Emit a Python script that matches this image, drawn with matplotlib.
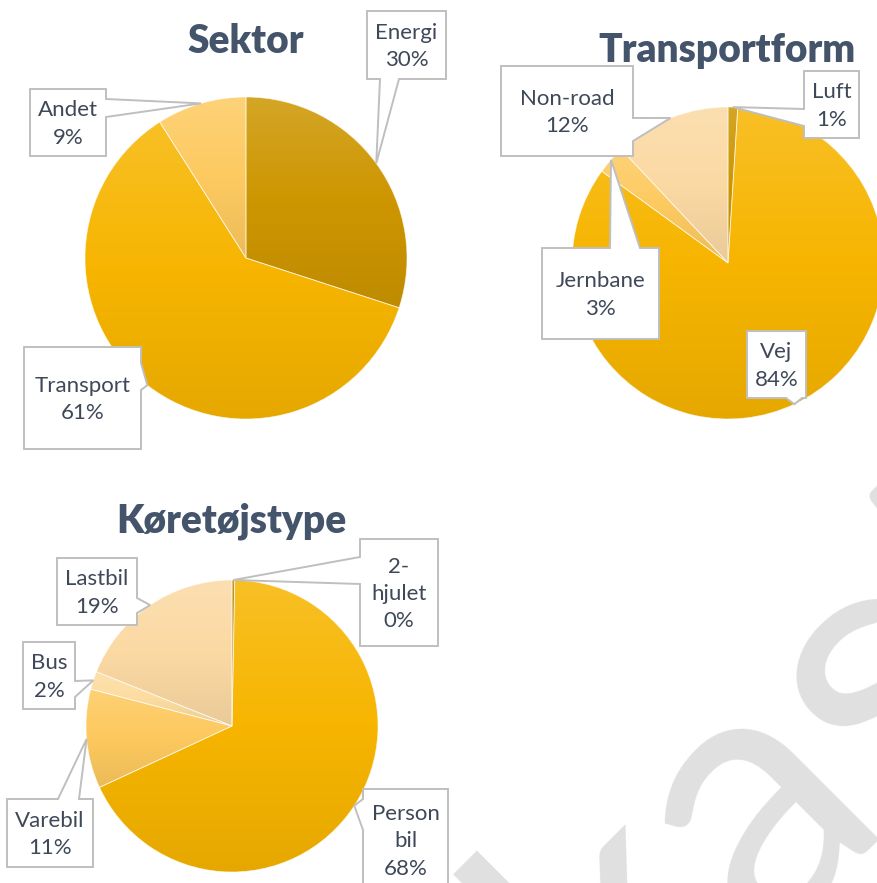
import matplotlib
matplotlib.use('Agg')
import matplotlib.pyplot as plt
import numpy as np
from matplotlib.colors import to_rgb
from matplotlib.patches import Polygon

W, H = 878, 883
plt.rcParams['font.family'] = ['Lato', 'DejaVu Sans']

TITLE_COLOR = '#44546A'
TEXT_COLOR = '#3E4858'
BOX_EDGE = '#BFBFBF'

# data
sektor_names = ['Energi', 'Transport', 'Andet']
sektor_values = [30, 61, 9]
sektor_colors = ['#CD9600', '#F7B500', '#FDCA60']

transport_names = ['Luft', 'Vej', 'Jernbane', 'Non-road']
transport_values = [1, 84, 3, 12]
transport_colors = ['#CD9600', '#F7B500', '#FDCA60', '#FBD9A3']

koretoj_names = ['2-\nhjulet', 'Person\nbil', 'Varebil', 'Bus', 'Lastbil']
koretoj_values = [0.3, 68, 11, 2, 19]   # 2-hjulet vises som 0%, men har en tynd skive
koretoj_colors = ['#B88600', '#F7B500', '#FDC95E', '#FCDCA0', '#FBD9A3']


def blend(c, other, t):
    c = np.array(to_rgb(c))
    return (1 - t) * c + t * np.array(other)


def gradient(base, n=256):
    top = blend(base, (1, 1, 1), 0.15)
    mid = np.array(to_rgb(base))
    bot = blend(base, (0, 0, 0), 0.07)
    s = np.linspace(0, 1, n)[:, None]
    col = np.where(s < 0.5, top + (mid - top) * (s / 0.5), mid + (bot - mid) * ((s - 0.5) / 0.5))
    return np.repeat(col[:, None, :], 2, axis=1)


def callout(ax, box, side, base, tip, text, text_y=None):
    # box og tip i billedkoordinater (y nedad)
    x0, y0, x1, y1 = box
    a, b = base
    tx, ty = tip
    if side == 'top':
        pts = [(x0, y0), (a, y0), (tx, ty), (b, y0), (x1, y0), (x1, y1), (x0, y1)]
    elif side == 'right':
        pts = [(x0, y0), (x1, y0), (x1, a), (tx, ty), (x1, b), (x1, y1), (x0, y1)]
    elif side == 'bottom':
        pts = [(x0, y0), (x1, y0), (x1, y1), (b, y1), (tx, ty), (a, y1), (x0, y1)]
    else:
        pts = [(x0, y0), (x1, y0), (x1, y1), (x0, y1), (x0, b), (tx, ty), (x0, a)]
    verts = [(x, H - y) for x, y in pts]
    ax.add_patch(Polygon(verts, closed=True, facecolor='white', edgecolor=BOX_EDGE,
                         linewidth=1.4, zorder=3, clip_on=False))
    cy = (y0 + y1) / 2 if text_y is None else text_y
    ax.text((x0 + x1) / 2, H - cy - 1.5, text, ha='center', va='center', fontsize=16,
            color=TEXT_COLOR, linespacing=1.45, zorder=4)


def draw_pie(ax, names, values, colors, center, radius, title, title_pos, boxes):
    cx, cy = center
    wedges, _ = ax.pie(values, colors=colors, startangle=90, counterclock=False,
                       center=(cx, H - cy), radius=radius, frame=True)
    total = sum(values)
    for w, col, name, v, bx in zip(wedges, colors, names, values, boxes):
        w.set_facecolor('none')
        w.set_edgecolor((1, 1, 1, 0.6))
        w.set_linewidth(0.6)
        w.set_zorder(2)
        ext = w.get_path().get_extents()
        im = ax.imshow(gradient(col), extent=(ext.x0, ext.x1, ext.y0, ext.y1),
                       origin='upper', interpolation='bilinear', aspect='auto', zorder=1)
        im.set_clip_path(w)
        mid = np.deg2rad((w.theta1 + w.theta2) / 2)
        tip = (w.center[0] + w.r * np.cos(mid), H - (w.center[1] + w.r * np.sin(mid)))
        label = f'{name}\n{v / total * 100:.0f}%'
        callout(ax, bx[0], bx[1], bx[2], tip, label, bx[3] if len(bx) > 3 else None)
    ax.text(title_pos[0], H - title_pos[1], title, ha='center', va='baseline',
            fontsize=28, fontweight='heavy', color=TITLE_COLOR, zorder=4)


fig = plt.figure(figsize=(W / 100, H / 100), dpi=100)
ax = fig.add_axes([0, 0, 1, 1])

# vandmærke (kun delvist synligt nederst til højre)
ax.text(688, H - 1000, 'Udkast', rotation=45, rotation_mode='anchor', ha='center', va='baseline',
        fontsize=270, fontweight='normal', color='#E0E0E0', zorder=0, clip_on=True)

draw_pie(ax, sektor_names, sektor_values, sektor_colors, (246, 258), 161,
         'Sektor', (246, 53),
         [((367, 11, 446, 79), 'bottom', (380, 399)),
          ((24, 347, 141, 449), 'right', (363, 390)),
          ((30, 89, 106, 156), 'right', (99, 117))])

draw_pie(ax, transport_names, transport_values, transport_colors, (728, 263), 156,
         'Transportform', (727, 62),
         [((804, 71, 859, 138), 'left', (109, 126)),
          ((747, 331, 806, 398), 'bottom', (786, 802)),
          ((542, 248, 659, 339), 'top', (610, 640)),
          ((501, 66, 633, 156), 'right', (118, 141))])

draw_pie(ax, koretoj_names, koretoj_values, koretoj_colors, (232, 726), 146,
         'Køretøjstype', (231, 533),
         [((360, 539, 438, 646), 'left', (557, 584)),
          ((363, 789, 448, 900), 'left', (799, 830), 840),
          ((7, 799, 93, 867), 'top', (58, 79)),
          ((23, 642, 75, 709), 'right', (681, 697)),
          ((57, 558, 137, 625), 'right', (598, 613))])

ax.set_xlim(0, W)
ax.set_ylim(0, H)
ax.set_aspect('equal')
ax.axis('off')

fig.savefig('out.png', dpi=100)
